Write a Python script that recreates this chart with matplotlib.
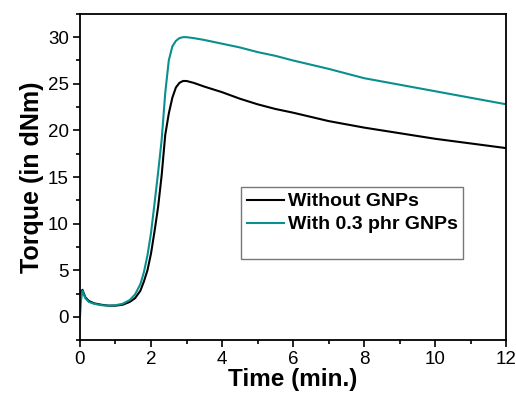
import matplotlib
matplotlib.use("Agg")
import matplotlib.pyplot as plt
from matplotlib.lines import Line2D
from matplotlib.ticker import MultipleLocator

plt.rcParams['font.family'] = ['Liberation Sans', 'DejaVu Sans']

# Time (min.)
t_without = [0, 0.07, 0.15, 0.25, 0.4, 0.6, 0.8, 1.0, 1.2, 1.4, 1.55, 1.7, 1.8, 1.9, 2.0,
             2.1, 2.2, 2.3, 2.4, 2.5, 2.6, 2.7, 2.8, 2.9, 3.0, 3.2, 3.5, 4, 4.5, 5, 5.5,
             6, 7, 8, 9, 10, 11, 12]
torque_without = [2.5, 2.9, 2.1, 1.7, 1.45, 1.3, 1.2, 1.2, 1.3, 1.6, 2.0, 2.8, 3.8, 5.0, 6.8,
                  9.2, 11.8, 15.2, 19.5, 21.8, 23.5, 24.6, 25.1, 25.3, 25.3, 25.1, 24.7, 24.1,
                  23.4, 22.8, 22.3, 21.9, 21.0, 20.3, 19.7, 19.1, 18.6, 18.1]

t_with = [0, 0.03, 0.07, 0.15, 0.25, 0.4, 0.6, 0.8, 1.0, 1.2, 1.4, 1.55, 1.7, 1.8, 1.9, 2.0,
          2.1, 2.2, 2.3, 2.4, 2.5, 2.6, 2.7, 2.8, 2.9, 3.0, 3.2, 3.5, 4, 4.5, 5, 5.5, 6, 7,
          8, 9, 10, 11, 12]
torque_with = [0, 1.8, 2.8, 2.0, 1.6, 1.4, 1.25, 1.2, 1.25, 1.4, 1.8, 2.4, 3.5, 4.8, 6.6, 9.0,
               12.2, 15.5, 19.0, 24.0, 27.5, 29.0, 29.6, 29.9, 30.0, 30.0, 29.9, 29.7, 29.3,
               28.9, 28.4, 28.0, 27.5, 26.6, 25.6, 24.9, 24.2, 23.5, 22.8]

labels = ["Without GNPs", "With 0.3 phr GNPs"]
x_label = "Time (min.)"
y_label = "Torque (in dNm)"

black = "#000000"
teal = "#0a8f8f"

fig = plt.figure(figsize=(5.16, 3.96), dpi=100)
ax = fig.add_axes([0.155, 0.141, 0.826, 0.824])

ax.plot(t_without, torque_without, color=black, lw=1.5)
ax.plot(t_with, torque_with, color=teal, lw=1.5)

ax.set_xlim(0, 12)
ax.set_ylim(-2.5, 32.5)
ax.xaxis.set_major_locator(MultipleLocator(2))
ax.xaxis.set_minor_locator(MultipleLocator(1))
ax.yaxis.set_major_locator(MultipleLocator(5))
ax.yaxis.set_minor_locator(MultipleLocator(2.5))
ax.tick_params(which='major', direction='out', length=5, width=1.2, labelsize=13.5,
               top=False, right=False, pad=3)
ax.tick_params(which='minor', direction='out', length=3, width=1.2, top=False, right=False)
for s in ax.spines.values():
    s.set_linewidth(1.3)

ax.set_xlabel(x_label, fontsize=17.5, fontweight='bold', labelpad=0)
ax.set_ylabel(y_label, fontsize=18, fontweight='bold', labelpad=3)

handles = [Line2D([], [], color=black, lw=1.5),
           Line2D([], [], color=teal, lw=1.5),
           Line2D([], [], color='none')]
leg = ax.legend(handles, labels + [" "], loc='upper left', bbox_to_anchor=(0.378, 0.468),
                fancybox=False, edgecolor='#777777', framealpha=1,
                prop={'weight': 'bold', 'size': 14}, handlelength=1.9, handleheight=0.4,
                handletextpad=0.2, borderpad=0.3, labelspacing=0.3, borderaxespad=0)
leg.get_frame().set_linewidth(1.0)
leg.get_texts()[2].set_fontsize(5)

fig.savefig("out.png", dpi=100)
